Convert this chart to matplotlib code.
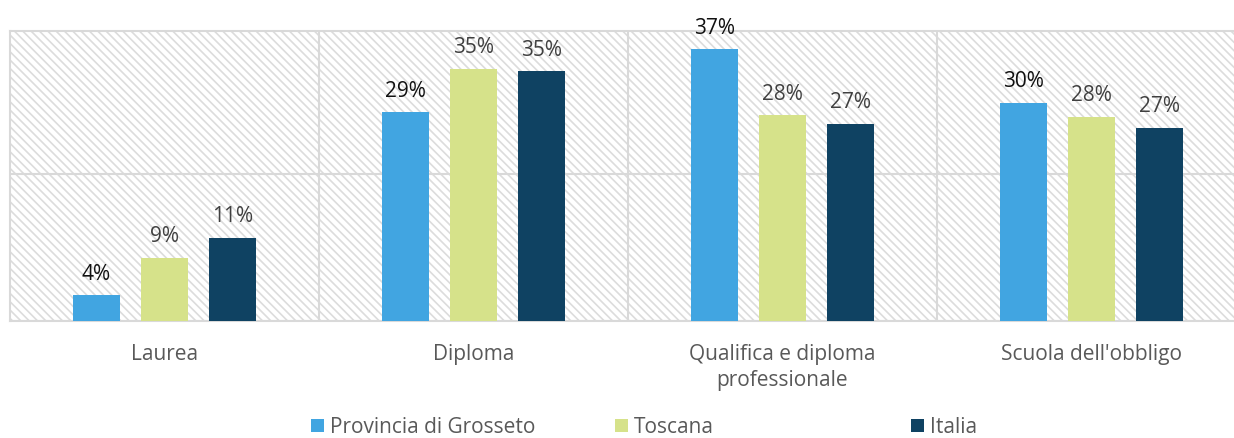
import matplotlib.pyplot as plt
from matplotlib.patches import Patch
import numpy as np

categories = ["Laurea", "Diploma", "Qualifica e diploma\nprofessionale", "Scuola dell'obbligo"]
series_names = ["Provincia di Grosseto", "Toscana", "Italia"]
grosseto = [0.035, 0.284, 0.370, 0.297]
toscana = [0.086, 0.343, 0.280, 0.278]
italia = [0.113, 0.340, 0.269, 0.263]
labels_grosseto = ["4%", "29%", "37%", "30%"]
labels_toscana = ["9%", "35%", "28%", "28%"]
labels_italia = ["11%", "35%", "27%", "27%"]

colors = ["#41a5e1", "#d6e28a", "#0f4262"]
label_colors = ["#111111", "#404040", "#404040"]

plt.rcParams['font.family'] = ['Open Sans', 'DejaVu Sans']
plt.rcParams['hatch.linewidth'] = 1.2

W, H = 1234, 439
fig = plt.figure(figsize=(W / 100, H / 100), dpi=100)
# plot area runs past the right edge of the image, like the source
ax = fig.add_axes([10 / W, 117 / H, 1236 / W, 290 / H])

# hatched background
ax.patch.set_facecolor("white")
ax.patch.set_hatch("\\\\\\\\")
ax.patch.set_edgecolor("#dcdcdc")

x = np.arange(len(categories))
w = 0.152
off = 0.22
all_vals = [grosseto, toscana, italia]
all_labels = [labels_grosseto, labels_toscana, labels_italia]
for i, (vals, labs) in enumerate(zip(all_vals, all_labels)):
    pos = x + (i - 1) * off
    ax.bar(pos, vals, width=w, color=colors[i], zorder=3)
    for p, v, t in zip(pos, vals, labs):
        ax.text(p, v + 0.016, t, ha="center", va="bottom", fontsize=15,
                color=label_colors[i], zorder=4)

ax.set_xlim(-0.5, len(categories) - 0.5)
ax.set_ylim(0, 0.395)
ax.set_yticks([0, 0.2])
ax.set_yticklabels([])
ax.tick_params(axis="y", length=0)
ax.set_xticks(x)
ax.set_xticklabels(categories, fontsize=15, color="#595959", linespacing=1.3)
ax.tick_params(axis="x", length=0, pad=16)
ax.set_xticks(x + 0.5, minor=True)
ax.tick_params(axis="x", which="minor", length=0)
ax.grid(axis="y", color="#d9d9d9", linewidth=1.5, zorder=1)
ax.grid(axis="x", which="minor", color="#d9d9d9", linewidth=1.5, zorder=1)
ax.grid(axis="x", which="major", visible=False)
for s in ax.spines.values():
    s.set_color("#d9d9d9")
    s.set_linewidth(1.5)
ax.spines["right"].set_visible(False)

# legend entries placed one by one, so the gaps match the source
legend_x = [311, 615, 911]
for name, c, lx in zip(series_names, colors, legend_x):
    leg = fig.legend(handles=[Patch(facecolor=c, label=name)], loc="center left",
                     bbox_to_anchor=(lx / W, 1 - 428 / H), frameon=False, fontsize=15,
                     handlelength=0.6, handleheight=0.6, handletextpad=0.3,
                     borderpad=0, borderaxespad=0)
    for t in leg.get_texts():
        t.set_color("#595959")

fig.savefig("out.png", dpi=100)
